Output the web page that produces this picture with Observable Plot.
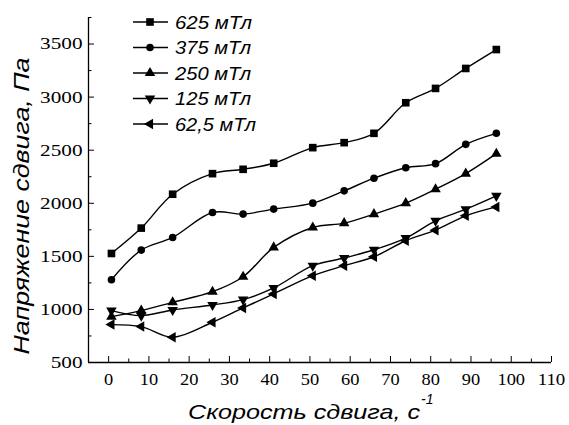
<!DOCTYPE html>
<html><head><meta charset="utf-8">
<script src="https://cdn.jsdelivr.net/npm/d3@7"></script>
<script src="https://cdn.jsdelivr.net/npm/@observablehq/plot@0.6"></script>
<style>
html,body{margin:0;padding:0;background:#fff;}
#chart{position:relative;width:569px;height:425px;overflow:hidden;}
</style></head><body><div id="chart"></div>
<script>
// ---- data ----
const shearRate = [0.7, 8.1, 15.9, 25.8, 33.4, 41.0, 50.7, 58.5, 65.9, 73.8, 81.2, 88.7, 96.3];
const seriesNames = ["625 мТл", "375 мТл", "250 мТл", "125 мТл", "62,5 мТл"];
const stress625 = [1527, 1766, 2085, 2279, 2320, 2377, 2524, 2571, 2659, 2947, 3082, 3270, 3448];
const stress375 = [1280, 1559, 1678, 1913, 1898, 1945, 2001, 2117, 2236, 2335, 2373, 2555, 2659];
const stress250 = [932, 989, 1067, 1167, 1308, 1584, 1772, 1813, 1898, 2001, 2132, 2279, 2467];
const stress125 = [989, 942, 995, 1042, 1092, 1202, 1412, 1484, 1562, 1672, 1835, 1944, 2070];
const stress62 = [857, 838, 738, 879, 1014, 1146, 1318, 1412, 1496, 1647, 1747, 1882, 1966];
const xTicks = [0, 10, 20, 30, 40, 50, 60, 70, 80, 90, 100, 110];
const xMinorTicks = [5, 15, 25, 35, 45, 55, 65, 75, 85, 95, 105];
const yTicks = [500, 1000, 1500, 2000, 2500, 3000, 3500];
const yMinorTicks = [750, 1250, 1750, 2250, 2750, 3250, 3750];
const xTitle = "Скорость сдвига, с";
const xTitleSup = "-1";
const yTitle = "Напряжение сдвига, Па";

// ---- styles ----
const allStress = [stress625, stress375, stress250, stress125, stress62];
const markerStyles = [
  {symbol: "square", rotate: 0, r: 4.3},
  {symbol: "circle", rotate: 0, r: 3.8},
  {symbol: "triangle", rotate: 0, r: 3.9},
  {symbol: "triangle", rotate: 180, r: 3.9},
  {symbol: "triangle", rotate: -90, r: 3.9}
];

const rows = seriesNames.flatMap((name, k) =>
  shearRate.map((x, i) => ({series: name, x, y: allStress[k][i]})));

const blank = () => "";
const plain = d => String(d);
const marks = [
  Plot.ruleX([-5], {strokeWidth: 1.3}),
  Plot.ruleY([500], {strokeWidth: 1.3}),
  Plot.axisX(xTicks, {tickSize: 0, tickPadding: 10.5, label: null, tickFormat: plain}),
  Plot.axisX(xTicks, {tickSize: -6, tickFormat: blank, label: null}),
  Plot.axisX(xMinorTicks, {tickSize: -3.5, tickFormat: blank, label: null}),
  Plot.axisY(yTicks, {tickSize: 0, tickPadding: 6, label: null, tickFormat: plain}),
  Plot.axisY(yTicks, {tickSize: -6, tickFormat: blank, label: null}),
  Plot.axisY(yMinorTicks, {tickSize: -3.5, tickFormat: blank, label: null}),
  Plot.line(rows, {x: "x", y: "y", z: "series", curve: "catmull-rom", stroke: "black", strokeWidth: 1.4})
];
seriesNames.forEach((name, k) => {
  const s = markerStyles[k];
  marks.push(Plot.dot(rows.filter(d => d.series === name), {
    x: "x", y: "y", symbol: s.symbol, r: s.r, rotate: s.rotate, fill: "black", stroke: "none"
  }));
});

const chart = Plot.plot({
  width: 569, height: 425,
  marginLeft: 88, marginRight: 18, marginTop: 17, marginBottom: 63,
  x: {domain: [-5, 110]},
  y: {domain: [500, 3750]},
  style: {fontFamily: "'Liberation Serif', 'Times New Roman', serif", fontSize: "17px", color: "black", background: "white", overflow: "visible"},
  marks
});
document.getElementById("chart").append(chart);

const svg = d3.select(chart);
// stretch tick labels to match the reference widths
svg.selectAll('g[aria-label="y-axis tick label"] text').each(function() {
  const t = this.textContent;
  if (t) d3.select(this).attr("textLength", t.length * 10.6).attr("lengthAdjust", "spacingAndGlyphs");
});
svg.selectAll('g[aria-label="x-axis tick label"] text').each(function() {
  const t = this.textContent;
  if (t) d3.select(this).attr("textLength", t.length * 9.2).attr("lengthAdjust", "spacingAndGlyphs");
});

const sans = "'Liberation Sans', Arial, sans-serif";
// x title
svg.append("text")
  .attr("font-family", sans).attr("font-style", "italic").attr("font-size", 21).attr("fill", "black")
  .attr("text-anchor", "start")
  .attr("x", 188).attr("y", 419).attr("textLength", 232).attr("lengthAdjust", "spacingAndGlyphs")
  .text(xTitle);
svg.append("text").attr("font-family", sans).attr("font-style", "italic").attr("font-size", 14).attr("fill", "black")
  .attr("text-anchor", "start")
  .attr("x", 421).attr("y", 404).text(xTitleSup);
// y title
svg.append("text")
  .attr("font-family", sans).attr("font-style", "italic").attr("font-size", 22).attr("fill", "black")
  .attr("text-anchor", "middle")
  .attr("transform", "translate(29,206) rotate(-90)")
  .attr("textLength", 297).attr("lengthAdjust", "spacingAndGlyphs")
  .text(yTitle);

// legend
const legendWidths = [77, 76, 76, 76, 81];
const lg = svg.append("g").attr("aria-label", "legend");
seriesNames.forEach((name, k) => {
  const cy = 22 + 25.5 * k;
  const s = markerStyles[k];
  const symType = s.symbol === "square" ? d3.symbolSquare : s.symbol === "circle" ? d3.symbolCircle : d3.symbolTriangle;
  lg.append("line").attr("x1", 133).attr("x2", 168).attr("y1", cy).attr("y2", cy)
    .attr("stroke", "black").attr("stroke-width", 1.4);
  lg.append("path").attr("d", d3.symbol(symType, Math.PI * s.r * s.r)())
    .attr("transform", `translate(150,${cy}) rotate(${s.rotate})`).attr("fill", "black");
  lg.append("text").attr("x", 175).attr("y", cy + 6.6)
    .attr("text-anchor", "start")
    .attr("font-family", sans).attr("font-style", "italic").attr("font-size", 19).attr("fill", "black")
    .attr("textLength", legendWidths[k]).attr("lengthAdjust", "spacingAndGlyphs")
    .text(name);
});
</script></body></html>
